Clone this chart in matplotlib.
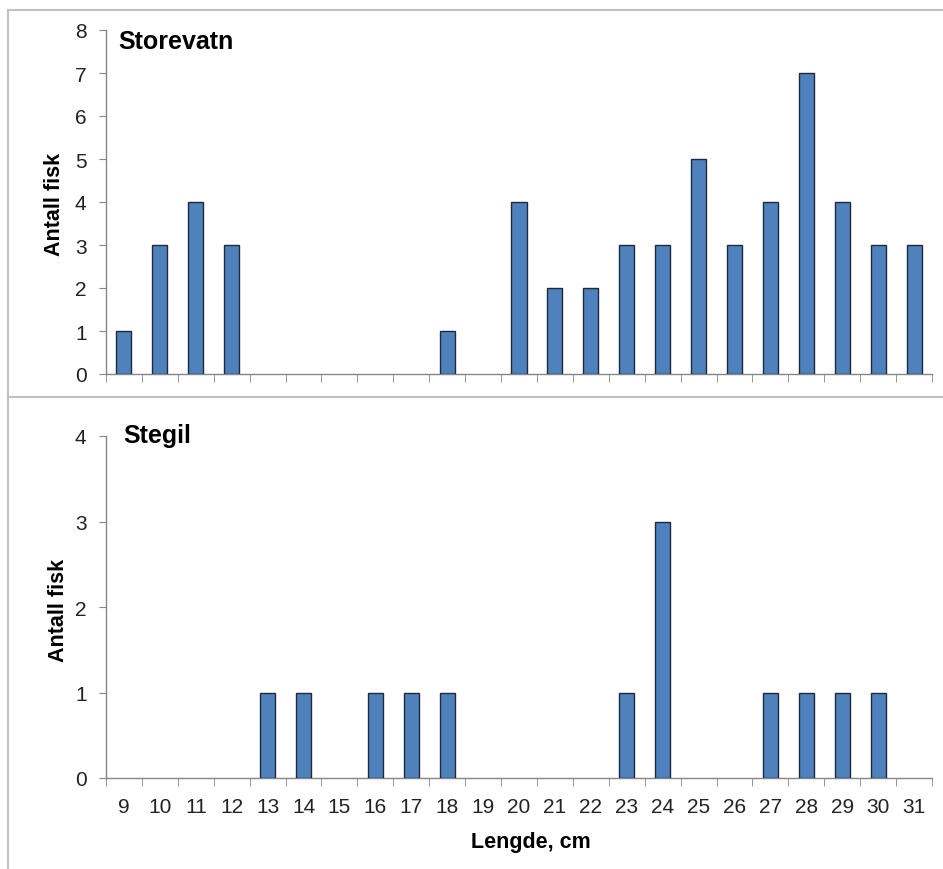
import matplotlib
matplotlib.use('Agg')

import numpy as np
import matplotlib.pyplot as plt
from matplotlib.lines import Line2D

# data
lengths = list(range(9, 32))
storevatn = [1, 3, 4, 3, 0, 0, 0, 0, 0, 1, 0, 4, 2, 2, 3, 3, 5, 3, 4, 7, 4, 3, 3]
stegil = [0, 0, 0, 0, 1, 1, 0, 1, 1, 1, 0, 0, 0, 0, 1, 3, 0, 0, 1, 1, 1, 1, 0]

W, H = 943, 870
plt.rcParams['font.family'] = ['Liberation Sans', 'DejaVu Sans']

fig = plt.figure(figsize=(W / 100, H / 100), dpi=100)

bar_color = '#4F81BD'
edge_color = '#1F2A38'
axis_color = '#868686'
frame_color = '#C0C0C0'


def fx(px):
    return px / W


def fy(py):
    return 1 - py / H


# panel frame lines (figure pixel coords)
for xs, ys in [((8, W), (11, 11)), ((8, 8), (11, H)), ((8, W), (397.5, 397.5))]:
    fig.add_artist(Line2D([fx(x) for x in xs], [fy(y) for y in ys],
                          color=frame_color, lw=1.5))


def draw_bars(ax, values):
    x = np.arange(len(lengths))
    v = np.array(values)
    keep = v > 0  # empty classes have no bar
    ax.bar(x[keep], v[keep], width=0.42, color=bar_color,
           edgecolor=edge_color, linewidth=1.0, zorder=3)


def style_axis(ax, ymax, show_labels):
    x = np.arange(len(lengths))
    ax.set_xlim(-0.5, len(lengths) - 0.5)
    ax.set_ylim(0, ymax)
    for s in ['top', 'right']:
        ax.spines[s].set_visible(False)
    for s in ['left', 'bottom']:
        ax.spines[s].set_color(axis_color)
        ax.spines[s].set_linewidth(1.0)
    ax.set_yticks(range(0, ymax + 1))
    ax.tick_params(axis='y', direction='out', length=5, color=axis_color,
                   labelsize=15, pad=9, labelcolor='#222222')
    ax.set_xticks(x)
    ax.set_xticks(np.arange(-0.5, len(lengths)), minor=True)
    ax.tick_params(axis='x', which='major', length=0, pad=14,
                   labelsize=15, labelcolor='#222222')
    ax.tick_params(axis='x', which='minor', length=6, color=axis_color,
                   direction='out')
    if show_labels:
        ax.set_xticklabels([str(v) for v in lengths])
    else:
        ax.set_xticklabels([])


ax1 = fig.add_axes([fx(106), fy(375), fx(932) - fx(106), fy(31) - fy(375)])
draw_bars(ax1, storevatn)
style_axis(ax1, 8, False)

ax2 = fig.add_axes([fx(106), fy(779), fx(932) - fx(106), fy(437) - fy(779)])
draw_bars(ax2, stegil)
style_axis(ax2, 4, True)

# titles and labels
fig.text(fx(118), fy(42), 'Storevatn', fontsize=18, fontweight='bold',
         ha='left', va='center')
fig.text(fx(123), fy(436), 'Stegil', fontsize=18, fontweight='bold',
         ha='left', va='center')
fig.text(fx(55), fy(204), 'Antall fisk', fontsize=15.5, fontweight='bold',
         rotation=90, ha='center', va='center')
fig.text(fx(59), fy(610), 'Antall fisk', fontsize=15.5, fontweight='bold',
         rotation=90, ha='center', va='center')
fig.text(fx(531), fy(843), 'Lengde, cm', fontsize=15.5, fontweight='bold',
         ha='center', va='center')

fig.savefig('out.png', dpi=100)
